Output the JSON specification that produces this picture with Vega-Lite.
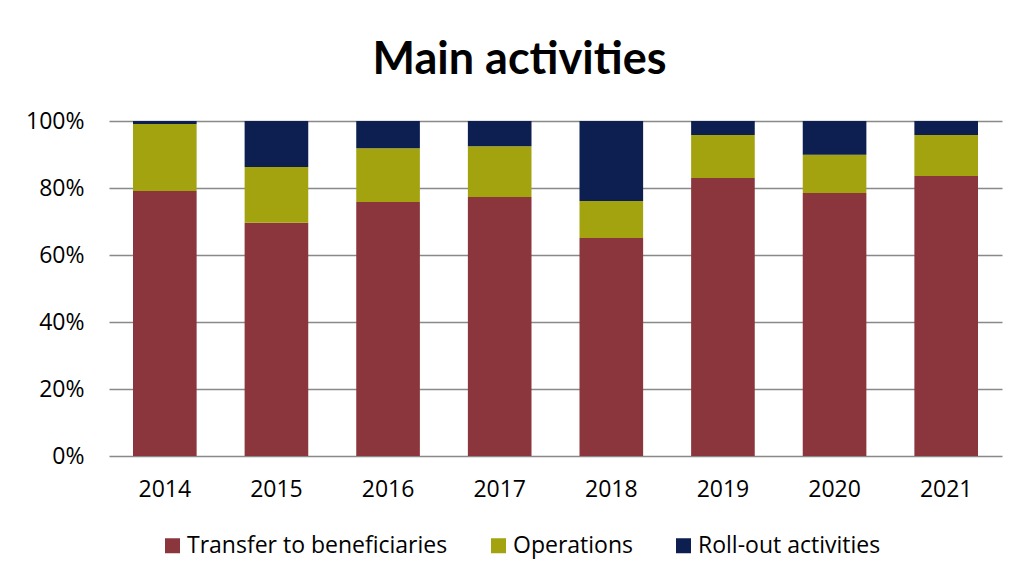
{
  "$schema": "https://vega.github.io/schema/vega-lite/v6.json",
  "width": 893,
  "height": 335,
  "autosize": "none",
  "padding": {"left": 109, "top": 121, "right": 16, "bottom": 126},
  "background": "white",
  "title": {
    "text": "Main activities",
    "font": "Lato",
    "fontSize": 45,
    "fontWeight": "bold",
    "color": "#000000",
    "anchor": "middle",
    "dx": -36,
    "offset": 27
  },
  "data": {
    "values": [
      {"year": "2014", "category": "Transfer to beneficiaries", "order": 1, "value": 79.1},
      {"year": "2014", "category": "Operations", "order": 2, "value": 20.0},
      {"year": "2014", "category": "Roll-out activities", "order": 3, "value": 0.9},
      {"year": "2015", "category": "Transfer to beneficiaries", "order": 1, "value": 69.6},
      {"year": "2015", "category": "Operations", "order": 2, "value": 16.7},
      {"year": "2015", "category": "Roll-out activities", "order": 3, "value": 13.7},
      {"year": "2016", "category": "Transfer to beneficiaries", "order": 1, "value": 75.8},
      {"year": "2016", "category": "Operations", "order": 2, "value": 16.1},
      {"year": "2016", "category": "Roll-out activities", "order": 3, "value": 8.1},
      {"year": "2017", "category": "Transfer to beneficiaries", "order": 1, "value": 77.3},
      {"year": "2017", "category": "Operations", "order": 2, "value": 15.2},
      {"year": "2017", "category": "Roll-out activities", "order": 3, "value": 7.5},
      {"year": "2018", "category": "Transfer to beneficiaries", "order": 1, "value": 65.1},
      {"year": "2018", "category": "Operations", "order": 2, "value": 11.0},
      {"year": "2018", "category": "Roll-out activities", "order": 3, "value": 23.9},
      {"year": "2019", "category": "Transfer to beneficiaries", "order": 1, "value": 83.0},
      {"year": "2019", "category": "Operations", "order": 2, "value": 12.8},
      {"year": "2019", "category": "Roll-out activities", "order": 3, "value": 4.2},
      {"year": "2020", "category": "Transfer to beneficiaries", "order": 1, "value": 78.5},
      {"year": "2020", "category": "Operations", "order": 2, "value": 11.4},
      {"year": "2020", "category": "Roll-out activities", "order": 3, "value": 10.1},
      {"year": "2021", "category": "Transfer to beneficiaries", "order": 1, "value": 83.6},
      {"year": "2021", "category": "Operations", "order": 2, "value": 12.2},
      {"year": "2021", "category": "Roll-out activities", "order": 3, "value": 4.2}
    ]
  },
  "mark": {"type": "bar"},
  "encoding": {
    "x": {
      "field": "year",
      "type": "nominal",
      "scale": {"paddingInner": 0.43, "paddingOuter": 0.215},
      "axis": {
        "title": null,
        "labelAngle": 0,
        "labelFont": "Open Sans",
        "labelFontSize": 23,
        "labelColor": "#000000",
        "labelPadding": 22,
        "ticks": false,
        "domain": false
      }
    },
    "y": {
      "field": "value",
      "type": "quantitative",
      "stack": "normalize",
      "scale": {"domain": [0, 1]},
      "axis": {
        "title": null,
        "values": [0, 0.2, 0.4, 0.6, 0.8, 1],
        "format": ".0%",
        "labelFont": "Open Sans",
        "labelFontSize": 23,
        "labelColor": "#000000",
        "labelPadding": 25,
        "ticks": false,
        "domain": false,
        "grid": true,
        "gridColor": "#898989",
        "gridWidth": 1.5
      }
    },
    "color": {
      "field": "category",
      "type": "nominal",
      "scale": {
        "domain": ["Transfer to beneficiaries", "Operations", "Roll-out activities"],
        "range": ["#8B363D", "#A3A310", "#0D1E50"]
      },
      "legend": {
        "title": null,
        "orient": "none",
        "direction": "horizontal",
        "legendX": 52,
        "legendY": 413,
        "symbolType": "square",
        "symbolSize": 225,
        "symbolStrokeWidth": 0,
        "labelFont": "Open Sans",
        "labelFontSize": 23,
        "labelColor": "#000000",
        "labelLimit": 400,
        "columnPadding": 39,
        "labelOffset": 3
      }
    },
    "order": {"field": "order", "type": "quantitative"}
  },
  "config": {"view": {"stroke": null}}
}
